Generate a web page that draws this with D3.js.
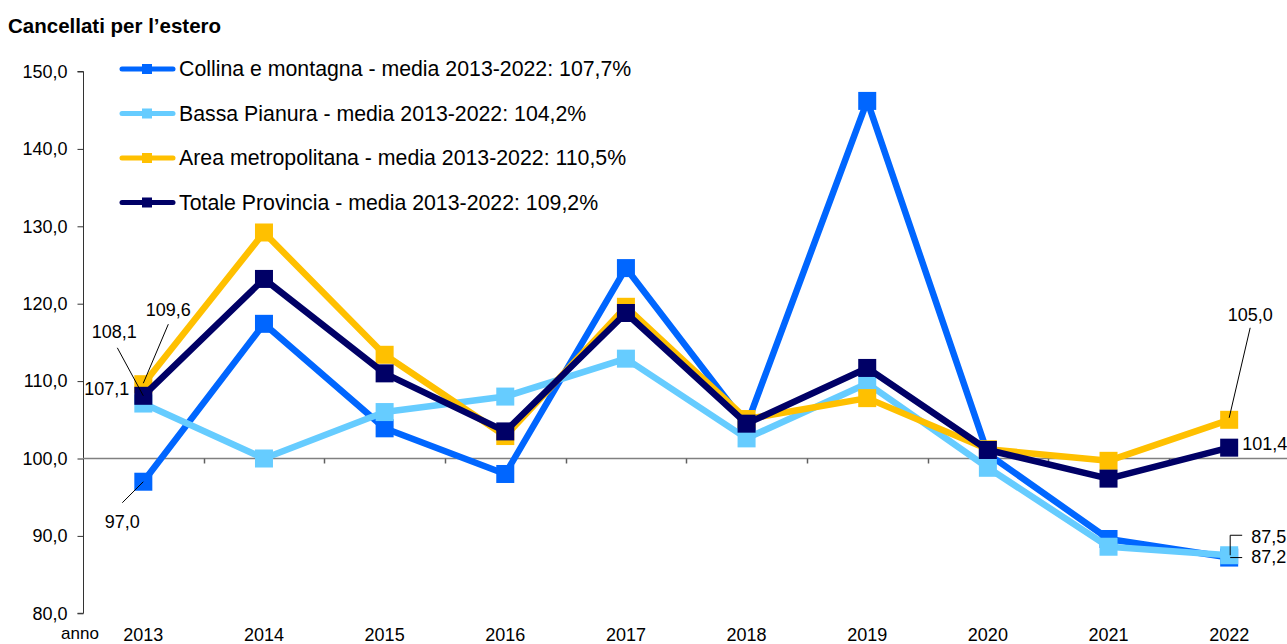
<!DOCTYPE html>
<html>
<head>
<meta charset="utf-8">
<title>Cancellati per l'estero</title>
<script src="https://d3js.org/d3.v7.min.js"></script>
<style>
  body { margin: 0; background: #fff; }
  text { font-family: "Liberation Sans", Arial, sans-serif; fill: #000; }
</style>
</head>
<body>
<div id="chart"></div>
<script>
// ---- data ----
var years = [2013, 2014, 2015, 2016, 2017, 2018, 2019, 2020, 2021, 2022];
var collina = [97.0, 117.4, 103.9, 98.0, 124.6, 104.3, 146.2, 100.6, 89.6, 87.2];
var bassa   = [107.1, 100.0, 106.0, 108.0, 112.9, 102.6, 109.7, 98.8, 88.6, 87.5];
var area    = [109.6, 129.2, 113.4, 102.9, 119.6, 105.1, 107.8, 101.2, 99.7, 105.0];
var totale  = [108.1, 123.2, 111.0, 103.5, 118.8, 104.5, 111.7, 101.1, 97.4, 101.4];
var seriesNames = [
  "Collina e montagna - media 2013-2022: 107,7%",
  "Bassa Pianura - media 2013-2022: 104,2%",
  "Area metropolitana - media 2013-2022: 110,5%",
  "Totale Provincia - media 2013-2022: 109,2%"
];
var yTicks = [80, 90, 100, 110, 120, 130, 140, 150];
var colors = ["#0066ff", "#66ccff", "#ffc000", "#000066"];
var allSeries = [collina, bassa, area, totale];

// data labels shown: series index, year index
var labelPoints = [[1, 0], [3, 0], [2, 0], [0, 0], [2, 9], [3, 9], [1, 9], [0, 9]];
// where each label sits relative to its marker (anchor, dx, dy, leader points)
var labelPlace = [
  {anchor: "end",    dx: -14, dy: -15, leader: null},
  {anchor: "middle", dx: -29, dy: -64, leader: [[-26, -48], [0, 0]]},
  {anchor: "middle", dx: 25,  dy: -74, leader: [[25, -60], [0, -1]]},
  {anchor: "middle", dx: -21, dy: 40,  leader: [[-21, 21], [0, 0]]},
  {anchor: "middle", dx: 21,  dy: -105, leader: [[21, -92], [0, -2]]},
  {anchor: "start",  dx: 13,  dy: -4,  leader: null},
  {anchor: "start",  dx: 22,  dy: -19, leader: [[13, -20], [1, -20], [1, 0]]},
  {anchor: "start",  dx: 22,  dy: -1,  leader: [[13, 0], [1, 0]]}
];

var W = 1287, H = 644;
var svg = d3.select("#chart").append("svg")
  .attr("width", W).attr("height", H);

var x = d3.scaleBand().domain(years).range([83, 1289.5]);
var y = d3.scaleLinear().domain([80, 150]).range([613.3, 71.5]);
var cx = function(i) { return x(years[i]) + x.bandwidth() / 2; };
var fmt = function(v) { return d3.format(".1f")(v).replace(".", ","); };

// title
svg.append("text")
  .attr("x", 8).attr("y", 33)
  .style("font-size", "20.5px").style("font-weight", "bold")
  .text("Cancellati per l\u2019estero");

// y axis
var yAxis = svg.append("g")
  .attr("transform", "translate(83.5,0)")
  .call(d3.axisLeft(y).tickValues(yTicks).tickSize(6).tickFormat(fmt));
yAxis.select(".domain").attr("stroke", "#333").attr("d", "M-6," + y(150) + "H0V" + y(80) + "H-6");
yAxis.selectAll(".tick line").attr("stroke", "#333");
yAxis.selectAll(".tick text")
  .attr("x", -16)
  .style("font-size", "18px")
  .style("font-family", "Liberation Sans, Arial, sans-serif")
  .attr("fill", "#000");

// x axis at 100
var xAxis = svg.append("g")
  .attr("transform", "translate(0," + y(100) + ")")
  .call(d3.axisBottom(x).tickSize(0).tickFormat(""));
xAxis.select(".domain").attr("stroke", "#808080").attr("stroke-width", 1.5)
  .attr("d", "M83,0H1287");
xAxis.selectAll(".bnd").data(years.slice(1)).enter().append("line")
  .attr("x1", function(d) { return Math.round(x(d)) + 0.5; })
  .attr("x2", function(d) { return Math.round(x(d)) + 0.5; })
  .attr("y1", 0).attr("y2", 5)
  .attr("stroke", "#606060").attr("stroke-width", 1.5);

// year labels along the bottom
svg.selectAll(".yr").data(years).enter().append("text")
  .attr("x", function(d) { return x(d) + x.bandwidth() / 2; })
  .attr("y", 641)
  .attr("text-anchor", "middle")
  .style("font-size", "18px")
  .text(function(d) { return d; });
svg.append("text")
  .attr("x", 80).attr("y", 639)
  .attr("text-anchor", "middle")
  .style("font-size", "17px")
  .text("anno");

// series
var line = d3.line()
  .x(function(d, i) { return cx(i); })
  .y(function(d) { return y(d); });
var ms = 18;
allSeries.forEach(function(s, k) {
  svg.append("path")
    .datum(s)
    .attr("d", line)
    .attr("fill", "none")
    .attr("stroke", colors[k])
    .attr("stroke-width", 6.5)
    .attr("stroke-linejoin", "round");
  svg.selectAll(".m" + k).data(s).enter().append("rect")
    .attr("x", function(d, i) { return cx(i) - ms / 2; })
    .attr("y", function(d) { return y(d) - ms / 2; })
    .attr("width", ms).attr("height", ms)
    .attr("fill", colors[k]);
});

// data labels
labelPoints.forEach(function(p, j) {
  var v = allSeries[p[0]][p[1]];
  var mx = cx(p[1]), my = y(v);
  var pl = labelPlace[j];
  if (pl.leader) {
    svg.append("polyline")
      .attr("points", pl.leader.map(function(q) { return (mx + q[0]) + "," + (my + q[1]); }).join(" "))
      .attr("fill", "none").attr("stroke", "#000").attr("stroke-width", 1);
  }
  svg.append("text")
    .attr("x", mx + pl.dx).attr("y", my + pl.dy)
    .attr("dy", "0.35em")
    .attr("text-anchor", pl.anchor)
    .style("font-size", "18px")
    .text(fmt(v));
});

// legend
var leg = svg.append("g");
seriesNames.forEach(function(n, k) {
  var ly = 69 + k * 44.5;
  leg.append("line")
    .attr("x1", 122).attr("x2", 173).attr("y1", ly).attr("y2", ly)
    .attr("stroke", colors[k]).attr("stroke-width", 5).attr("stroke-linecap", "round");
  leg.append("rect")
    .attr("x", 142).attr("y", ly - 5).attr("width", 10).attr("height", 10)
    .attr("fill", colors[k]);
  leg.append("text")
    .attr("x", 179).attr("y", ly).attr("dy", "0.35em")
    .style("font-size", "21.3px")
    .text(n);
});
</script>
</body>
</html>
